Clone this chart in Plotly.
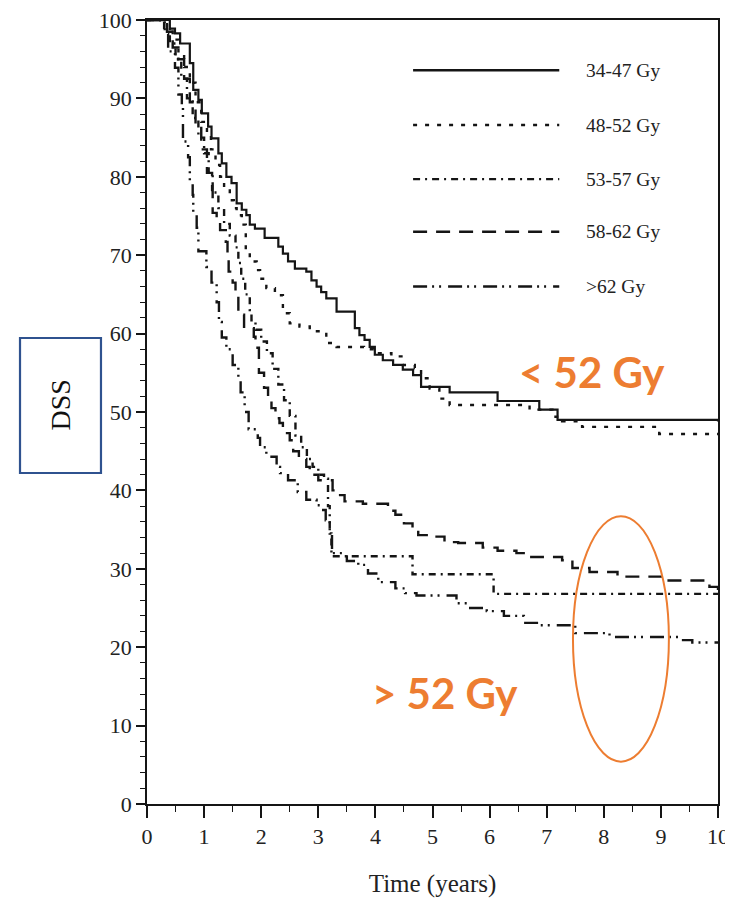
import plotly.graph_objects as go

# ---- data ----
t_34_47 = [0, 0.40, 0.49, 0.58, 0.75, 0.81, 0.90, 0.96, 1.07, 1.13, 1.25, 1.31, 1.39, 1.48, 1.57,
           1.66, 1.74, 1.80, 1.89, 2.06, 2.30, 2.38, 2.47, 2.59, 2.79, 2.88, 2.97, 3.05, 3.14, 3.32,
           3.64, 3.72, 3.81, 3.90, 3.99, 4.13, 4.31, 4.48, 4.66, 4.80, 5.30, 6.14, 6.87, 7.19, 10]
s_34_47 = [100, 98.9, 98.3, 97.0, 94.5, 91.1, 89.8, 88.1, 86.4, 84.9, 83.0, 81.7, 80.0, 79.2, 76.6,
           75.8, 75.1, 73.9, 73.4, 72.2, 71.1, 70.2, 69.2, 68.3, 67.9, 66.8, 66.0, 65.3, 64.5, 62.8,
           60.7, 59.8, 59.2, 58.3, 57.3, 56.6, 56.0, 55.4, 54.7, 53.2, 52.5, 51.4, 50.3, 49.0, 48.8]

t_48_52 = [0, 0.35, 0.45, 0.55, 0.65, 0.75, 0.85, 0.95, 1.05, 1.12, 1.20, 1.28, 1.35, 1.45, 1.52,
           1.57, 1.66, 1.73, 1.80, 1.92, 1.98, 2.09, 2.24, 2.38, 2.50, 2.67, 2.85, 3.14, 3.32, 3.80,
           3.97, 4.28, 4.48, 4.69, 4.80, 4.95, 5.12, 5.30, 6.70, 7.10, 7.27, 7.62, 8.97, 10]
s_48_52 = [100, 99.0, 97.5, 96.0, 94.0, 92.0, 89.5, 87.0, 85.5, 83.5, 81.5, 80.0, 78.5, 77.0, 76.0,
           75.1, 73.9, 70.7, 69.2, 68.1, 67.0, 65.8, 64.9, 62.6, 61.3, 60.9, 60.3, 58.8, 58.3, 58.0,
           57.5, 57.1, 56.0, 55.6, 54.3, 53.0, 51.7, 50.9, 50.3, 49.4, 48.8, 48.1, 47.2, 47.2]

t_53_57 = [0, 0.30, 0.40, 0.50, 0.60, 0.70, 0.80, 0.90, 1.00, 1.08, 1.15, 1.25, 1.35, 1.45, 1.55,
           1.60, 1.65, 1.72, 1.80, 1.83, 1.90, 2.00, 2.10, 2.20, 2.30, 2.40, 2.50, 2.60, 2.70, 2.80,
           2.90, 3.00, 3.10, 3.17, 3.20, 3.23, 4.65, 6.07, 10]
s_53_57 = [100, 99.0, 97.0, 95.0, 92.5, 90.0, 87.5, 85.0, 83.0, 80.5, 78.0, 76.0, 74.0, 72.5, 71.0,
           69.0, 67.0, 65.0, 63.0, 61.7, 60.5, 59.0, 57.5, 55.5, 53.5, 51.5, 49.5, 47.0, 45.5, 44.0,
           43.0, 42.0, 41.5, 38.0, 34.5, 31.6, 29.3, 26.8, 26.7]

t_58_62 = [0, 0.35, 0.45, 0.55, 0.65, 0.75, 0.85, 0.95, 1.05, 1.14, 1.15, 1.22, 1.28, 1.38, 1.41,
           1.43, 1.50, 1.55, 1.60, 1.70, 1.87, 1.90, 1.96, 2.05, 2.12, 2.18, 2.25, 2.32, 2.38, 2.50,
           2.56, 2.66, 2.79, 2.85, 3.00, 3.25, 3.32, 3.46, 3.78, 4.22, 4.35, 4.50, 4.65, 4.75, 4.95,
           5.21, 5.45, 5.88, 6.14, 6.47, 6.73, 7.27, 7.45, 7.75, 8.24, 9.06, 9.85, 10]
s_58_62 = [100, 98.5, 96.5, 95.0, 92.5, 89.5, 86.5, 83.5, 80.5, 78.3, 75.4, 74.5, 73.2, 71.7, 70.3,
           67.9, 66.5, 65.2, 62.4, 60.7, 59.6, 58.2, 55.0, 53.1, 51.9, 50.5, 49.2, 48.6, 47.3, 46.4,
           45.0, 44.0, 43.0, 42.0, 41.3, 40.0, 39.4, 38.6, 38.3, 37.4, 36.9, 35.8, 34.9, 34.3, 34.1,
           33.4, 33.3, 32.7, 32.3, 32.0, 31.5, 31.1, 30.1, 29.6, 29.0, 28.5, 27.7, 27.3]

t_gt62 = [0, 0.31, 0.37, 0.49, 0.55, 0.61, 0.63, 0.72, 0.75, 0.80, 0.81, 0.87, 0.90, 1.04, 1.13,
          1.22, 1.26, 1.31, 1.39, 1.50, 1.60, 1.64, 1.71, 1.78, 1.94, 1.98, 2.09, 2.27, 2.33, 2.47,
          2.64, 2.79, 2.97, 3.05, 3.13, 3.20, 3.24, 3.50, 3.70, 3.87, 4.05, 4.35, 4.52, 4.72, 5.42,
          5.60, 5.95, 6.25, 6.60, 6.85, 7.50, 8.10, 9.35, 9.55, 10]
s_gt62 = [100, 98.2, 96.0, 93.9, 90.5, 88.8, 84.5, 82.5, 79.5, 77.7, 75.5, 73.5, 70.5, 68.5, 66.5,
          64.0, 61.5, 59.5, 58.0, 56.0, 54.5, 52.5, 50.0, 47.8, 46.7, 45.5, 44.3, 43.0, 42.2, 41.3,
          39.8, 38.8, 38.1, 37.5, 36.2, 34.5, 32.0, 31.0, 30.5, 29.4, 28.3, 27.5, 26.9, 26.6, 25.6,
          25.0, 24.6, 24.0, 23.1, 22.8, 21.8, 21.3, 20.9, 20.6, 20.6]

series_names = ["34-47 Gy", "48-52 Gy", "53-57 Gy", "58-62 Gy", ">62 Gy"]
series_t = [t_34_47, t_48_52, t_53_57, t_58_62, t_gt62]
series_s = [s_34_47, s_48_52, s_53_57, s_58_62, s_gt62]

x_ticks = list(range(0, 11))
y_ticks = list(range(0, 101, 10))

# ---- styles ----
INK = "#151515"
dashes = ["solid", "4px,8px", "7px,5px,2px,5px", "14px,9px", "14px,5px,2px,5px,2px,7px"]
widths = [2.2, 2.4, 2.4, 2.4, 2.4]
SERIF = "Liberation Serif"
ORANGE = "#ED7D31"

fig = go.Figure()
for name, t, s, d, w in zip(series_names, series_t, series_s, dashes, widths):
    fig.add_trace(go.Scatter(x=t, y=s, mode="lines", name=name, line_shape="hv",
                             line=dict(color=INK, width=w, dash=d), showlegend=False))

# legend drawn in paper space (sample lines + labels)
leg_y = [0.936, 0.866, 0.797, 0.730, 0.660]
for name, d, yy in zip(series_names, dashes, leg_y):
    fig.add_shape(type="line", xref="paper", yref="paper", x0=0.466, x1=0.722, y0=yy, y1=yy,
                  line=dict(color=INK, width=2.4, dash=d))
    fig.add_annotation(xref="paper", yref="paper", x=0.765, y=yy, text=name, showarrow=False,
                       xanchor="left", yanchor="middle",
                       font=dict(family=SERIF, size=19.5, color="#222"))

# orange annotations
fig.add_annotation(xref="paper", yref="paper", x=0.779, y=0.551, text="< 52 Gy", showarrow=False,
                   xanchor="center", yanchor="middle",
                   font=dict(family="Lato", size=42, color=ORANGE, weight="bold"))
fig.add_annotation(xref="paper", yref="paper", x=0.522, y=0.1416, text="> 52 Gy", showarrow=False,
                   xanchor="center", yanchor="middle",
                   font=dict(family="Lato", size=42, color=ORANGE, weight="bold"))
fig.add_shape(type="circle", xref="x", yref="y", x0=7.46, x1=9.14, y0=5.4, y1=36.7,
              line=dict(color=ORANGE, width=2))

# DSS boxed label
fig.add_shape(type="rect", xref="paper", yref="paper", x0=-0.2224, x1=-0.0806, y0=0.4222, y1=0.5944,
              line=dict(color="#2F528F", width=2.2))
fig.add_annotation(xref="paper", yref="paper", x=-0.1515, y=0.5089, text="DSS", showarrow=False,
                   xanchor="center", yanchor="middle", textangle=-90,
                   font=dict(family=SERIF, size=28, color="#111"))

# page body has an 8px margin, so the figure is sized to fit inside the window
fig.update_layout(
    width=725, height=903,
    margin=dict(l=139, r=15, t=12, b=107),
    paper_bgcolor="white", plot_bgcolor="white",
    showlegend=False,
)
fig.update_xaxes(range=[0, 10], tickvals=x_ticks, ticktext=[str(v) for v in x_ticks],
                 automargin=False, ticklabeloverflow="allow",
                 showgrid=False, zeroline=False, showline=True, linecolor=INK, linewidth=1.5,
                 mirror=True, ticks="outside", ticklen=12, tickwidth=1.5, tickcolor=INK,
                 minor=dict(dtick=0.5, ticks="outside", ticklen=6, tickwidth=1.3, tickcolor=INK),
                 tickfont=dict(family=SERIF, size=22, color="#222"),
                 title=dict(text="Time (years)", font=dict(family=SERIF, size=25, color="#222"),
                            standoff=26))
fig.update_yaxes(range=[0, 100], tickvals=y_ticks, ticktext=[str(v) for v in y_ticks],
                 automargin=False, ticklabeloverflow="allow",
                 showgrid=False, zeroline=False, showline=True, linecolor=INK, linewidth=1.5,
                 mirror=True, ticks="outside", ticklen=9, tickwidth=1.5, tickcolor=INK,
                 minor=dict(dtick=2, ticks="outside", ticklen=5, tickwidth=1.2, tickcolor=INK),
                 tickfont=dict(family=SERIF, size=22, color="#222"))

fig.write_html("out.html")
